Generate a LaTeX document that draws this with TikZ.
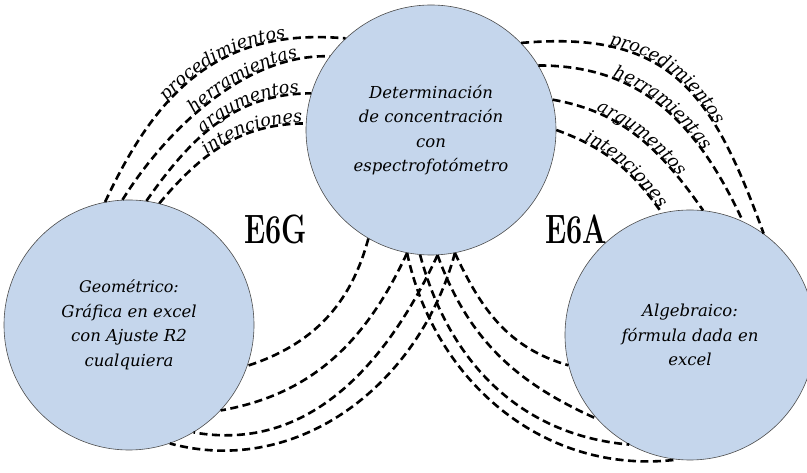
\documentclass[tikz,border=0pt]{standalone}
\usepackage{fontspec}
\usepackage{xcolor}
\usepackage{graphicx}
\usepackage{tikz}
\usetikzlibrary{decorations.text}
\newfontfamily\djv{DejaVu Serif}
\definecolor{bolita}{RGB}{197,214,236}

\begin{document}
\begin{tikzpicture}[x=1pt, y=1pt,
    bola/.style={circle, draw=black!70, line width=0.6pt, fill=bolita, minimum size=250pt, inner sep=0pt, align=center, font=\djv\itshape\fontsize{16.5}{24.5}\selectfont},
    raya/.style={line width=2.6pt, dash pattern=on 8pt off 4.5pt},
    etiq/.style 2 args={postaction={decorate, decoration={text along path, text format delimiters={|}{|}, text={|\djv\itshape\fontsize{17.5}{17.5}\selectfont|#1}, text align={left indent=#2}, raise=1pt}}},
    grande/.style={font=\fontsize{41}{41}\selectfont\bfseries}]
    \useasboundingbox (0,0) rectangle (807,473);
    \node[bola] (geo) at (129,148) {\fontsize{16}{22}\selectfont Geométrico:\\ Gráfica en excel\\ con Ajuste R2\\ cualquiera};
    \node[bola] (cen) at (431,343) {Determinación\\ de concentración\\ con\\ espectrofotómetro};
    \node[bola] (alg) at (690,138) {Algebraico:\\ fórmula dada en\\ excel};
    \node[grande] (e6g) at (276,244) {\scalebox{0.7}[1]{E6G}};
    \node[grande] (e6a) at (576,244) {\scalebox{0.7}[1]{E6A}};
    \draw[raya, etiq={procedimientos}{118pt}] (geo.101) to[out=65,in=175,looseness=1.1] (cen.133);
    \draw[raya, etiq={herramientas}{112pt}] (geo.93) to[out=58,in=178,looseness=0.85] (cen.144);
    \draw[raya, etiq={argumentos}{88pt}] (geo.82) to[out=55,in=180] (cen.163);
    \draw[raya, etiq={intenciones}{68pt}] (geo.76) to[out=50,in=180] (cen.177);
    \draw[raya, etiq={procedimientos}{88pt}] (cen.44) to[out=5,in=110,looseness=1.25] (alg.54);
    \draw[raya, etiq={herramientas}{75pt}] (cen.31) to[out=0,in=115,looseness=1.05] (alg.65);
    \draw[raya, etiq={argumentos}{45pt}] (cen.14) to[out=-10,in=125] (alg.84);
    \draw[raya, etiq={intenciones}{30pt}] (cen.0) to[out=-20,in=125] (alg.103);
    \draw[raya] (cen.240) to[out=-105,in=18] (geo.-19);
    \draw[raya] (cen.259) to[out=-115,in=10] (geo.-43);
    \draw[raya] (cen.273) to[out=-115,in=-10] (geo.-59);
    \draw[raya] (cen.281) to[out=-105,in=-15] (geo.-71);
    \draw[raya] (cen.281) to[out=-65,in=164] (alg.194);
    \draw[raya] (cen.273) to[out=-70,in=156] (alg.222);
    \draw[raya] (cen.265) to[out=-75,in=175] (alg.241);
    \draw[raya] (cen.259) to[out=-78,in=187] (alg.264);
\end{tikzpicture}
\end{document}
